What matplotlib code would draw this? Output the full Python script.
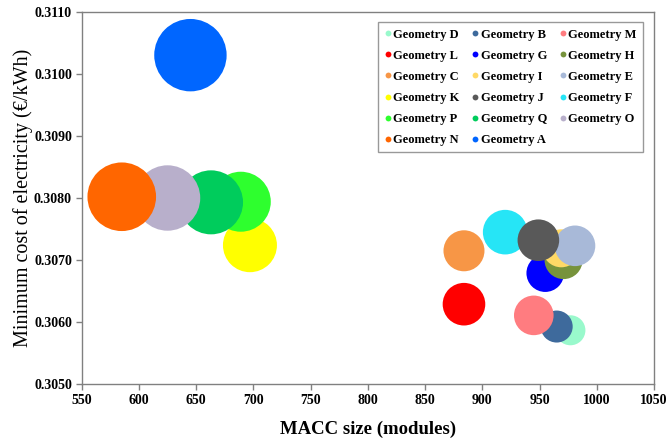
import matplotlib
matplotlib.use("Agg")
import matplotlib.pyplot as plt
from matplotlib.lines import Line2D
from matplotlib.ticker import FormatStrFormatter, MultipleLocator

# ---- data ----
names = ["Geometry D", "Geometry B", "Geometry M", "Geometry L", "Geometry G", "Geometry H",
         "Geometry C", "Geometry I", "Geometry E", "Geometry K", "Geometry J", "Geometry F",
         "Geometry P", "Geometry Q", "Geometry O", "Geometry N", "Geometry A"]
macc_size = [977, 965, 945, 884, 955, 971, 884, 969, 981, 697, 949, 920, 689, 663, 625, 585, 645]
min_cost = [0.30587, 0.30593, 0.30611, 0.30629, 0.30679, 0.30700, 0.30715, 0.30719, 0.30723,
            0.30724, 0.30732, 0.30745, 0.30794, 0.30793, 0.30800, 0.30802, 0.31030]
bubble_size = [15, 16, 19.8, 21.3, 18.8, 19, 20.5, 19, 20.3, 27, 20.8, 22.3, 30, 32, 32.7, 34.3, 36.2]
colors = ["#99F9CC", "#3E6A9C", "#FF7C80", "#FF0000", "#0000FF", "#77933C", "#F79646", "#FFD966",
          "#A8B9D8", "#FFFF00", "#595959", "#26E5F6", "#2EFF2E", "#00CC5C", "#B8AFCB", "#FF6600",
          "#0066FF"]
x_ticks = [550, 600, 650, 700, 750, 800, 850, 900, 950, 1000, 1050]

# drawing order (F drawn beneath J)
draw_order = [0, 1, 2, 3, 4, 5, 6, 7, 8, 9, 11, 10, 12, 13, 14, 15, 16]

DPI = 100
plt.rcParams["font.family"] = ["Liberation Serif", "DejaVu Serif"]
fig = plt.figure(figsize=(6.68, 4.38), dpi=DPI)
ax = fig.add_axes([0.1223, 0.1226, 0.8567, 0.8507])

for z, i in enumerate(draw_order):
    d_pt = 2 * bubble_size[i] * 72.0 / DPI
    ax.scatter([macc_size[i]], [min_cost[i]], s=d_pt ** 2, color=colors[i],
               edgecolors="none", zorder=2 + z)

ax.set_xlim(550, 1050)
ax.set_ylim(0.3050, 0.3110)
ax.set_xticks(x_ticks)
ax.yaxis.set_major_locator(MultipleLocator(0.001))
ax.yaxis.set_major_formatter(FormatStrFormatter("%.4f"))

for sp in ax.spines.values():
    sp.set_color("#808080")
    sp.set_linewidth(1.0)
ax.tick_params(axis="both", direction="out", length=4, width=1, color="#808080",
               labelsize=10, pad=3)
for lab in ax.get_xticklabels() + ax.get_yticklabels():
    lab.set_fontweight("bold")

ax.set_xlabel("MACC size (modules)", fontsize=13.5, fontweight="bold", labelpad=10)
ax.set_ylabel("Minimum cost of electricity (€/kWh)", fontsize=14.5, labelpad=1)

# legend: row-major display of names using 3 columns (column-major fill)
col_idx = [[0, 3, 6, 9, 12, 15], [1, 4, 7, 10, 13, 16], [2, 5, 8, 11, 14]]
handles, labels = [], []
for col in col_idx:
    for i in col:
        handles.append(Line2D([], [], marker="o", linestyle="none", markersize=4.2,
                              markerfacecolor=colors[i], markeredgecolor="none"))
        labels.append(names[i])
leg = ax.legend(handles, labels, ncol=3, loc="upper left", bbox_to_anchor=(0.517, 0.9716),
                prop={"weight": "bold", "size": 9}, frameon=True, fancybox=False,
                edgecolor="#808080", handlelength=0.6, handletextpad=0.15,
                columnspacing=0.95, labelspacing=0.73, borderpad=0.5, borderaxespad=0)
leg.get_frame().set_linewidth(1.0)
leg.set_zorder(100)

fig.savefig("out.png", dpi=DPI)
